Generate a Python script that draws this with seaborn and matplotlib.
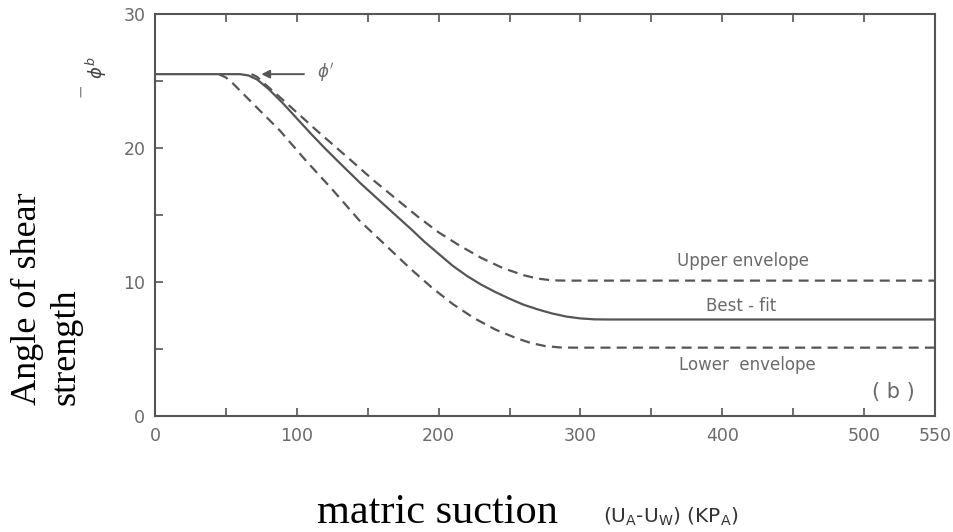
import matplotlib
matplotlib.use("Agg")
import matplotlib.pyplot as plt
import seaborn as sns

# matric suction (kPa) vs angle phi_b (degrees)
best_x = [0, 60, 66, 72, 80, 90, 100, 110, 120, 130, 145, 158, 170, 181, 190, 200,
          210, 220, 230, 240, 250, 260, 270, 280, 290, 300, 310, 320, 550]
best_y = [25.5, 25.5, 25.4, 25.1, 24.4, 23.35, 22.2, 21.05, 19.95, 18.9, 17.35, 16.1,
          14.95, 13.9, 13.0, 12.1, 11.2, 10.45, 9.8, 9.25, 8.75, 8.3, 7.95, 7.65,
          7.42, 7.28, 7.21, 7.2, 7.2]

upper_x = [68, 72, 76, 90, 114, 140, 155, 170, 185, 200, 215, 230, 245, 260, 270,
           280, 290, 550]
upper_y = [25.5, 25.3, 24.9, 23.6, 21.3, 18.9, 17.5, 16.2, 14.9, 13.7, 12.7, 11.8,
           11.05, 10.5, 10.25, 10.12, 10.1, 10.1]

lower_x = [45, 50, 55, 70, 88, 106, 125, 144, 158, 180, 195, 210, 225, 240, 255, 265,
           275, 285, 295, 550]
lower_y = [25.5, 25.25, 24.8, 23.2, 21.3, 19.1, 16.9, 14.6, 13.2, 11.0, 9.6, 8.35,
           7.3, 6.45, 5.8, 5.45, 5.22, 5.12, 5.1, 5.1]

x_ticks = [0, 50, 100, 150, 200, 250, 300, 350, 400, 450, 500, 550]
x_tick_labels = ["0", "", "100", "", "200", "", "300", "", "400", "", "500", "550"]
y_ticks = [0, 10, 20, 30]
y_minor = [5, 15, 25]

INK = "#555555"
LABEL = "#6a6a6a"

sns.set_theme(style="ticks")
plt.rcParams["font.family"] = ["DejaVu Sans"]

fig, ax = plt.subplots(figsize=(9.54, 5.32), dpi=100)
fig.subplots_adjust(left=0.1625, right=0.980, bottom=0.218, top=0.974)

sns.lineplot(x=best_x, y=best_y, sort=False, color=INK, lw=1.6, ax=ax)
sns.lineplot(x=upper_x, y=upper_y, sort=False, color=INK, lw=1.6,
             linestyle=(0, (4.5, 2.8)), ax=ax)
sns.lineplot(x=lower_x, y=lower_y, sort=False, color=INK, lw=1.6,
             linestyle=(0, (4.5, 2.8)), ax=ax)

ax.set_xlim(0, 550)
ax.set_ylim(0, 30)
ax.set_xticks(x_ticks)
ax.set_xticklabels(x_tick_labels)
ax.set_yticks(y_ticks)
ax.set_yticks(y_minor, minor=True)
ax.tick_params(axis="both", which="both", direction="in", color=INK,
               width=1.2, labelcolor=LABEL, labelsize=12.5)
ax.tick_params(axis="x", top=True, length=6, pad=8)
ax.tick_params(axis="y", which="major", length=6, pad=7)
ax.tick_params(axis="y", which="minor", length=6)
for s in ax.spines.values():
    s.set_color(INK)
    s.set_linewidth(1.5)

# annotations inside the plot
ax.annotate("", xy=(73, 25.5), xytext=(107, 25.5),
            arrowprops=dict(arrowstyle="-|>", color=INK, lw=1.4, mutation_scale=12))
ax.text(114, 25.6, r"$\phi'$", fontsize=12, color=LABEL, va="center")
ax.text(415, 11.6, "Upper envelope", ha="center", va="center", fontsize=12, color=LABEL)
ax.text(413, 8.2, "Best - fit", ha="center", va="center", fontsize=12, color=LABEL)
ax.text(418, 3.8, "Lower  envelope", ha="center", va="center", fontsize=12, color=LABEL)
ax.text(521, 1.8, "( b )", ha="center", va="center", fontsize=15, color=LABEL)

ax.set_xlabel("")
ax.set_ylabel("")

# axis titles
fig.text(0.049, 0.239, "Angle of shear\nstrength", rotation=90, ha="center",
         va="bottom", multialignment="left", fontsize=26,
         family=["Liberation Serif"], color="black")
fig.text(317 / 954, 0.017, "matric suction", ha="left", va="baseline",
         fontsize=30.5, family=["Liberation Serif"], color="black")
fig.text(603 / 954, 0.017,
         r"(U$_{\mathregular{A}}$-U$_{\mathregular{W}}$) (KP$_{\mathregular{A}}$)",
         ha="left", va="baseline", fontsize=14.5, color="#333333")
fig.text(96 / 954, 1 - 68 / 532, r"$\phi^{b}$", rotation=90, ha="center",
         va="center", fontsize=13, color="#444444")
fig.text(80 / 954, 1 - 92 / 532, "|", ha="center", va="center", fontsize=8,
         color="#444444")

fig.savefig("out.png", dpi=100)
